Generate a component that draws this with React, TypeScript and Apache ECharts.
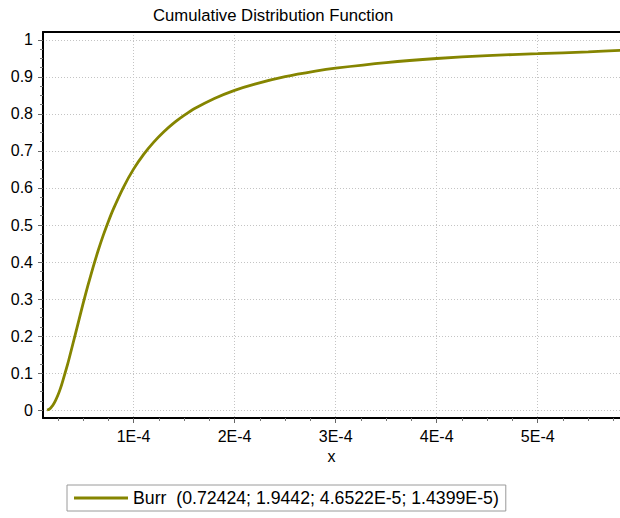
import React, { useEffect, useRef } from "react";
import * as echarts from "echarts";

// Curve points (x, F(x))
const xValues = [
  1.44e-5, 1.6e-5, 1.8e-5, 2.0e-5, 2.25e-5, 2.5e-5, 2.75e-5, 3.0e-5, 3.5e-5, 4.0e-5,
  4.5e-5, 5.0e-5, 5.5e-5, 6.0e-5, 6.5e-5, 7.0e-5, 7.5e-5, 8.0e-5, 9.0e-5, 1.0e-4,
  1.1e-4, 1.2e-4, 1.3e-4, 1.4e-4, 1.5e-4, 1.6e-4, 1.8e-4, 2.0e-4, 2.2e-4, 2.5e-4,
  2.8e-4, 3.0e-4, 3.5e-4, 4.0e-4, 4.5e-4, 5.0e-4, 5.5e-4, 5.82e-4,
];
const cdfValues = [
  0, 0.0015, 0.0055, 0.012, 0.024, 0.039, 0.057, 0.079, 0.126, 0.179,
  0.233, 0.287, 0.338, 0.386, 0.431, 0.472, 0.509, 0.543, 0.602, 0.651,
  0.691, 0.724, 0.752, 0.776, 0.796, 0.814, 0.842, 0.864, 0.881, 0.901,
  0.916, 0.924, 0.939, 0.95, 0.958, 0.963, 0.968, 0.972,
];

const seriesName = "Burr  (0.72424; 1.9442; 4.6522E-5; 1.4399E-5)";
const titleText = "Cumulative Distribution Function";
const xAxisName = "x";

const xTickValues = [1e-4, 2e-4, 3e-4, 4e-4, 5e-4];
const xTickLabels = ["1E-4", "2E-4", "3E-4", "4E-4", "5E-4"];
const xMinorTicks = [
  2.5e-5, 5e-5, 7.5e-5, 1.25e-4, 1.5e-4, 1.75e-4, 2.25e-4, 2.5e-4, 2.75e-4,
  3.25e-4, 3.5e-4, 3.75e-4, 4.25e-4, 4.5e-4, 4.75e-4, 5.25e-4, 5.5e-4, 5.75e-4,
];
const yTickValues = [0, 0.1, 0.2, 0.3, 0.4, 0.5, 0.6, 0.7, 0.8, 0.9, 1];
const yTickLabels = ["0", "0.1", "0.2", "0.3", "0.4", "0.5", "0.6", "0.7", "0.8", "0.9", "1"];
const yMinorTicks = [
  0.025, 0.05, 0.075, 0.125, 0.15, 0.175, 0.225, 0.25, 0.275, 0.325, 0.35, 0.375,
  0.425, 0.45, 0.475, 0.525, 0.55, 0.575, 0.625, 0.65, 0.675, 0.725, 0.75, 0.775,
  0.825, 0.85, 0.875, 0.925, 0.95, 0.975,
];

const X_MIN = 1.04e-5;
const X_MAX = 5.814e-4;
const Y_MIN = -0.0216;
const Y_MAX = 1.0216;

const FONT = "Arial, 'Liberation Sans', Helvetica, sans-serif";
const LINE_COLOR = "#858500";

function labelFor(values: number[], labels: string[], v: number): string {
  for (let i = 0; i < values.length; i++) {
    if (Math.abs(values[i] - v) < 1e-9) return labels[i];
  }
  return "";
}

export default function App() {
  const ref = useRef<HTMLDivElement>(null);

  useEffect(() => {
    if (!ref.current) return;
    const chart = echarts.init(ref.current, null, { renderer: "svg" });
    const data = xValues.map((x, i) => [x, cdfValues[i]]);

    const gridLine = {
      show: true,
      lineStyle: { color: "#c4c4c4", width: 1, type: [1, 2] as any },
    };

    chart.setOption({
      animation: false,
      backgroundColor: "#ffffff",
      title: {
        text: titleText,
        left: 153,
        top: 7,
        padding: 0,
        textStyle: { fontFamily: FONT, fontSize: 16.7, fontWeight: "normal", color: "#000" },
      },
      legend: {
        left: 67,
        top: 485,
        orient: "horizontal",
        padding: [4, 7, 4, 7],
        borderColor: "#9a9a9a",
        borderWidth: 1,
        icon: "rect",
        itemWidth: 54,
        itemHeight: 3,
        textStyle: { fontFamily: FONT, fontSize: 17.7, color: "#000" },
        data: [{ name: seriesName }],
      },
      grid: { left: 43, right: 0, top: 32, bottom: 100, containLabel: false },
      xAxis: [
        {
          type: "value",
          min: X_MIN,
          max: X_MAX,
          position: "bottom",
          name: xAxisName,
          nameLocation: "middle",
          nameGap: 30,
          nameTextStyle: { fontFamily: FONT, fontSize: 16, color: "#000" },
          axisLine: { show: true, onZero: false, lineStyle: { color: "#000", width: 2 } },
          axisTick: {
            show: true,
            length: 5,
            customValues: xTickValues,
            lineStyle: { color: "#666", width: 1 },
          },
          axisLabel: {
            show: true,
            customValues: xTickValues,
            margin: 10,
            fontFamily: FONT,
            fontSize: 16,
            color: "#000",
            formatter: (v: number) => labelFor(xTickValues, xTickLabels, v),
          },
          splitLine: gridLine,
        },
        {
          type: "value",
          min: X_MIN,
          max: X_MAX,
          position: "bottom",
          axisLine: { show: false, onZero: false },
          axisTick: {
            show: true,
            length: 3,
            customValues: xMinorTicks,
            lineStyle: { color: "#777", width: 1 },
          },
          axisLabel: { show: false },
          splitLine: { show: false },
        },
        {
          type: "value",
          min: X_MIN,
          max: X_MAX,
          position: "top",
          axisLine: { show: true, onZero: false, lineStyle: { color: "#000", width: 2 } },
          axisTick: { show: false },
          axisLabel: { show: false },
          splitLine: { show: false },
        },
      ],
      yAxis: [
        {
          type: "value",
          min: Y_MIN,
          max: Y_MAX,
          position: "left",
          axisLine: { show: true, onZero: false, lineStyle: { color: "#000", width: 2 } },
          axisTick: {
            show: true,
            length: 5,
            customValues: yTickValues,
            lineStyle: { color: "#666", width: 1 },
          },
          axisLabel: {
            show: true,
            customValues: yTickValues,
            margin: 10,
            fontFamily: FONT,
            fontSize: 16,
            color: "#000",
            formatter: (v: number) => labelFor(yTickValues, yTickLabels, v),
          },
          splitLine: gridLine,
        },
        {
          type: "value",
          min: Y_MIN,
          max: Y_MAX,
          position: "left",
          axisLine: { show: false, onZero: false },
          axisTick: {
            show: true,
            length: 3,
            customValues: yMinorTicks,
            lineStyle: { color: "#777", width: 1 },
          },
          axisLabel: { show: false },
          splitLine: { show: false },
        },
      ],
      series: [
        {
          name: seriesName,
          type: "line",
          xAxisIndex: 0,
          yAxisIndex: 0,
          data,
          showSymbol: false,
          symbol: "none",
          smooth: 0.25,
          lineStyle: { color: LINE_COLOR, width: 2.8 },
          itemStyle: { color: LINE_COLOR },
        },
      ],
    });

    return () => chart.dispose();
  }, []);

  return (
    <div
      ref={ref}
      style={{ position: "fixed", left: 0, top: 0, width: 620, height: 518 }}
    />
  );
}
